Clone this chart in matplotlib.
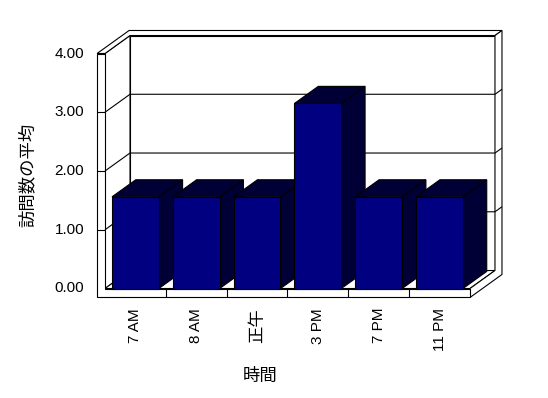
import matplotlib
matplotlib.use('Agg')
import matplotlib.pyplot as plt
from matplotlib.patches import Polygon

plt.rcParams['font.family'] = ['Liberation Sans', 'Noto Sans CJK JP']

# data
categories = ['7 AM', '8 AM', '正午', '3 PM', '7 PM', '11 PM']
visits = [1.56, 1.56, 1.56, 3.15, 1.56, 1.56]
y_ticks = [0, 1, 2, 3, 4]
x_title = '時間'
y_title = '訪問数の平均'

# oblique "3d" geometry (category units / value units)
DX, DY = 0.411, 0.306      # shift for one unit of depth
WALL = 0.13                # left wall thickness
SLAB = 0.153               # floor thickness
BACK = 0.28                # back wall thickness (depth)
GAP = 0.115                # bar inset on each side of a category
BAR_DEPTH = 0.95

FRONT = '#000080'
SHADE = '#000036'
LW = 0.8


def P(x, v, d):
    return (x + d * DX, v + d * DY)


def face(ax, pts, fc, z):
    ax.add_patch(Polygon([P(*p) for p in pts], closed=True, fc=fc,
                         ec='black', lw=LW, zorder=z, joinstyle='miter'))


def line(ax, pts, z=2):
    xy = [P(*p) for p in pts]
    ax.plot([a for a, b in xy], [b for a, b in xy], color='black', lw=LW,
            zorder=z, solid_capstyle='butt')


fig = plt.figure(figsize=(5.48, 3.98), dpi=100)
ax = fig.add_axes([0, 0, 1, 1])
ax.set_xlim(-105 / 60.83, (548 - 105) / 60.83)
ax.set_ylim((288.5 - 398) / 58.75, 288.5 / 58.75)
ax.axis('off')

n = len(categories)
top = y_ticks[-1]

# walls and floor
face(ax, [(0, 0, 1), (n, 0, 1), (n, top, 1), (0, top, 1)], 'white', 1)
face(ax, [(0, 0, 0), (0, 0, 1), (0, top, 1), (0, top, 0)], 'white', 1)
face(ax, [(0, 0, 0), (n, 0, 0), (n, 0, 1), (0, 0, 1)], 'white', 1)
face(ax, [(-WALL, top, 0), (0, top, 0), (0, top, 1), (n, top, 1),
          (n, top, 1 + BACK), (-WALL, top, 1 + BACK)], 'white', 1)
face(ax, [(n, -SLAB, 0), (n, -SLAB, 1 + BACK), (n, top, 1 + BACK),
          (n, top, 1), (n, 0, 1), (n, 0, 0)], 'white', 1)
face(ax, [(-WALL, -SLAB, 0), (n, -SLAB, 0), (n, 0, 0), (0, 0, 0),
          (0, top, 0), (-WALL, top, 0)], 'white', 1)

# gridlines
for v in y_ticks[1:-1]:
    line(ax, [(-WALL, v, 0), (0, v, 0)])
    line(ax, [(0, v, 0), (0, v, 1), (n, v, 1), (n, v, 1 + BACK)])

# category dividers on the floor front
for i in range(1, n):
    line(ax, [(i, -SLAB, 0), (i, 0, 0)])

# bars
for i, val in enumerate(visits):
    x0, x1 = i + GAP, i + 1 - GAP
    z = 3 + i
    face(ax, [(x1, 0, 0), (x1, 0, BAR_DEPTH), (x1, val, BAR_DEPTH), (x1, val, 0)], SHADE, z)
    face(ax, [(x0, val, 0), (x1, val, 0), (x1, val, BAR_DEPTH), (x0, val, BAR_DEPTH)], SHADE, z)
    face(ax, [(x0, 0, 0), (x1, 0, 0), (x1, val, 0), (x0, val, 0)], FRONT, z)

# tick labels
for v in y_ticks:
    ax.text(-0.345, v, f'{v:.2f}', ha='right', va='center', fontsize=11)
for i, lab in enumerate(categories):
    size = 11 if lab.isascii() else 12.5
    ax.text(i + 0.5, -0.33, lab, rotation=90, ha='center', va='top', fontsize=size)

# axis titles
ax.text(2.55, -1.49, x_title, ha='center', va='center', fontsize=12.5)
ax.text(-1.27, 1.93, y_title, rotation=90, ha='center', va='center', fontsize=12.5)

fig.savefig('out.png', dpi=100, facecolor='white')
